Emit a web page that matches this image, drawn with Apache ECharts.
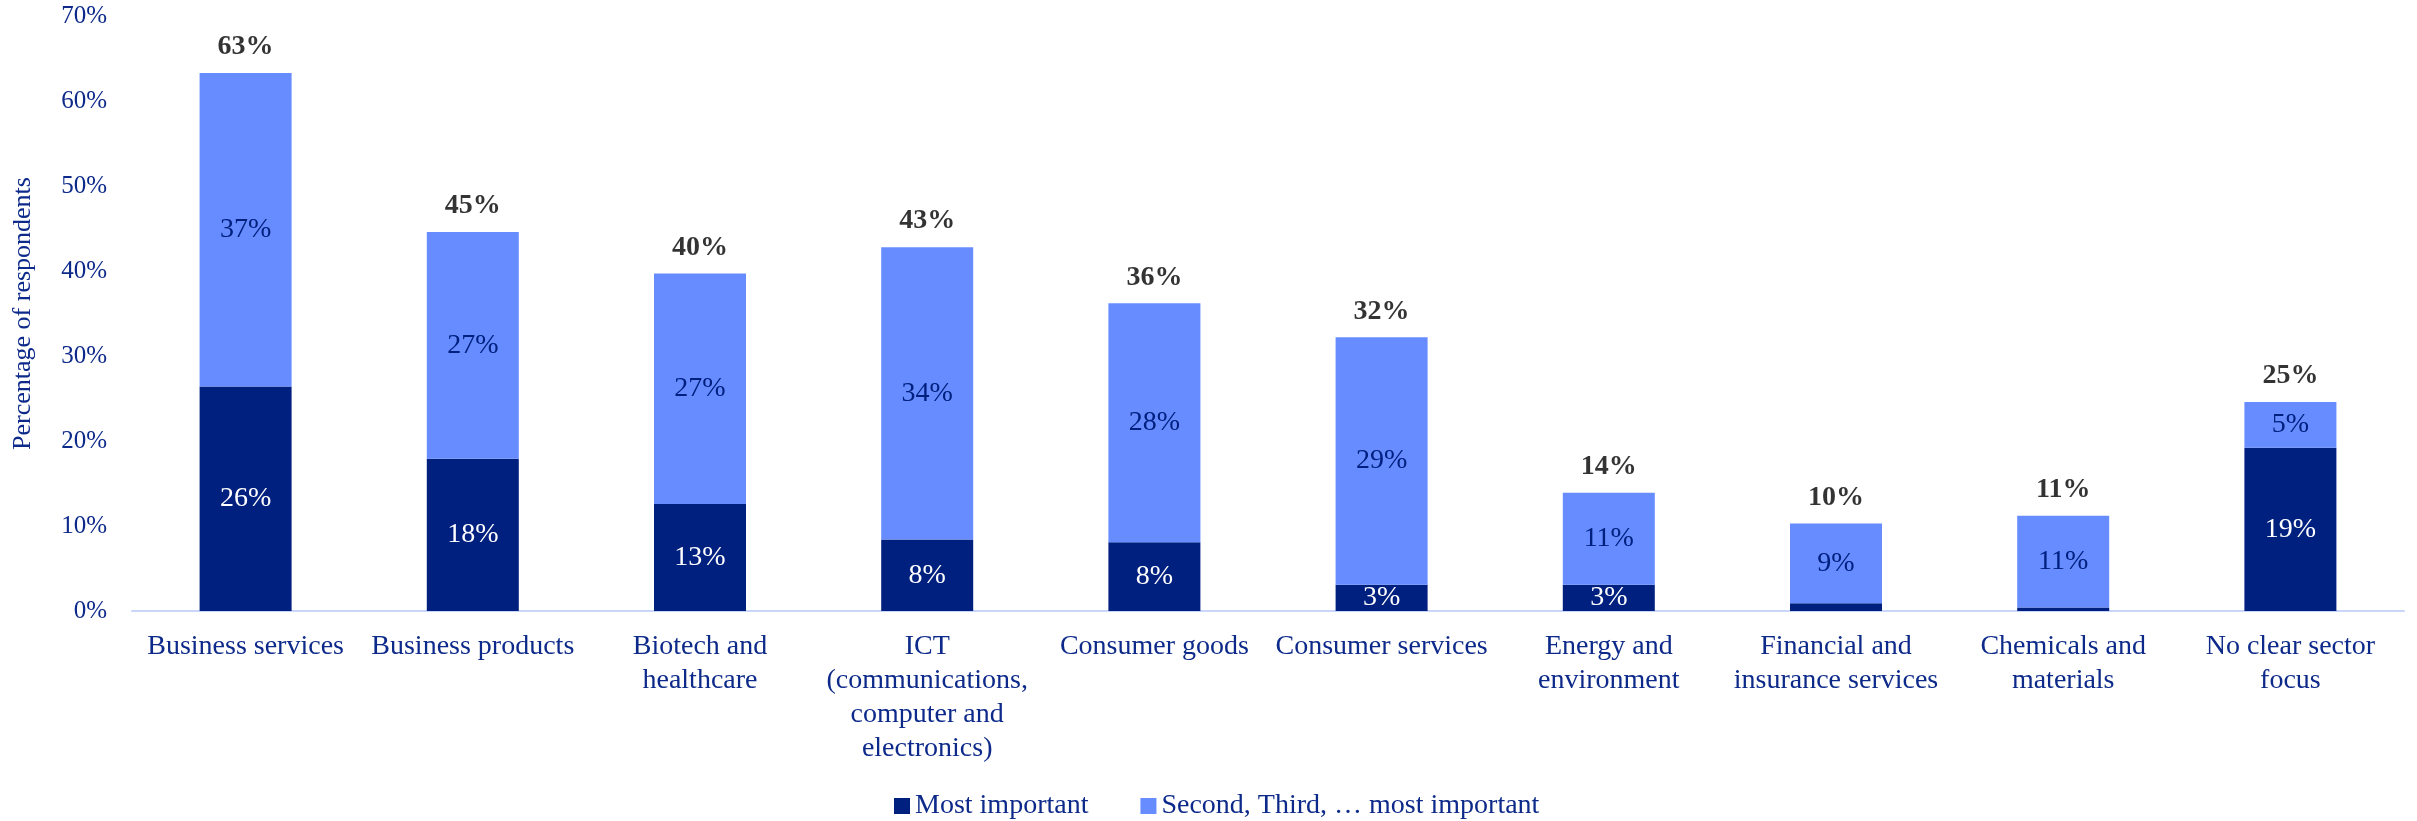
<!DOCTYPE html>
<html>
<head>
<meta charset="utf-8">
<script src="https://cdn.jsdelivr.net/npm/echarts@6/dist/echarts.min.js"></script>
<style>
  html, body { margin: 0; padding: 0; background: #fff; }
  #chart { width: 2417px; height: 821px; }
</style>
</head>
<body>
<div id="chart"></div>
<script>
// sectors (percent of respondents)
const sectors = [
  "Business services",
  "Business products",
  "Biotech and\nhealthcare",
  "ICT\n(communications,\ncomputer and\nelectronics)",
  "Consumer goods",
  "Consumer services",
  "Energy and\nenvironment",
  "Financial and\ninsurance services",
  "Chemicals and\nmaterials",
  "No clear sector\nfocus",
];
const mostImportant = [26.4, 17.9, 12.6, 8.4, 8.1, 3.1, 3.1, 0.9, 0.4, 19.2];
const otherRanks = [36.9, 26.7, 27.1, 34.4, 28.1, 29.1, 10.8, 9.4, 10.8, 5.4];
const yTicks = { min: 0, max: 70, step: 10 };

const FONT = "'Liberation Serif', 'Times New Roman', serif";
const NAVY = "#00207f";
const LIGHT = "#668cff";
const TEXT = "#0d2a8a";

const totals = mostImportant.map((v, i) => v + otherRanks[i]);

const chart = echarts.init(document.getElementById("chart"));

chart.setOption({
  animation: false,
  textStyle: { fontFamily: FONT },
  grid: { left: 132, right: 13, top: 16, bottom: 210 },
  legend: {
    data: ["Most important", "Second, Third, … most important"],
    left: 889,
    top: 787,
    itemWidth: 16,
    itemHeight: 16,
    itemGap: 52,
    icon: "rect",
    textStyle: { fontFamily: FONT, fontSize: 28, color: TEXT },
  },
  xAxis: {
    type: "category",
    data: sectors,
    axisLine: { lineStyle: { color: "#c9d6f8", width: 2 } },
    axisTick: { show: false },
    axisLabel: {
      interval: 0,
      margin: 19,
      fontFamily: FONT,
      fontSize: 28,
      lineHeight: 34,
      color: TEXT,
      align: "center",
    },
  },
  yAxis: {
    type: "value",
    min: yTicks.min,
    max: yTicks.max,
    interval: yTicks.step,
    name: "Percentage of respondents",
    nameLocation: "middle",
    nameGap: 96,
    nameTextStyle: { fontFamily: FONT, fontSize: 26, color: TEXT },
    splitLine: { show: false },
    axisLine: { show: false },
    axisTick: { show: false },
    axisLabel: {
      margin: 25,
      fontFamily: FONT,
      fontSize: 25,
      color: TEXT,
      formatter: "{value}%",
    },
  },
  series: [
    {
      name: "Most important",
      type: "bar",
      stack: "sector",
      barWidth: 92,
      data: mostImportant,
      itemStyle: { color: NAVY },
      label: {
        show: true,
        position: "inside",
        fontFamily: FONT,
        fontSize: 28,
        color: "#fff",
        formatter: p => (p.value >= 2 ? Math.round(p.value) + "%" : ""),
      },
    },
    {
      name: "Second, Third, … most important",
      type: "bar",
      stack: "sector",
      barWidth: 92,
      data: otherRanks,
      itemStyle: { color: LIGHT },
      label: {
        show: true,
        position: "inside",
        fontFamily: FONT,
        fontSize: 28,
        color: NAVY,
        formatter: p => Math.round(p.value) + "%",
      },
    },
    {
      name: "Total",
      type: "scatter",
      data: totals,
      symbolSize: 0,
      silent: true,
      label: {
        show: true,
        position: "top",
        distance: 12,
        fontFamily: FONT,
        fontSize: 28,
        fontWeight: "bold",
        color: "#000",
        formatter: p => Math.round(p.value) + "%",
      },
    },
  ],
});
</script>
</body>
</html>
